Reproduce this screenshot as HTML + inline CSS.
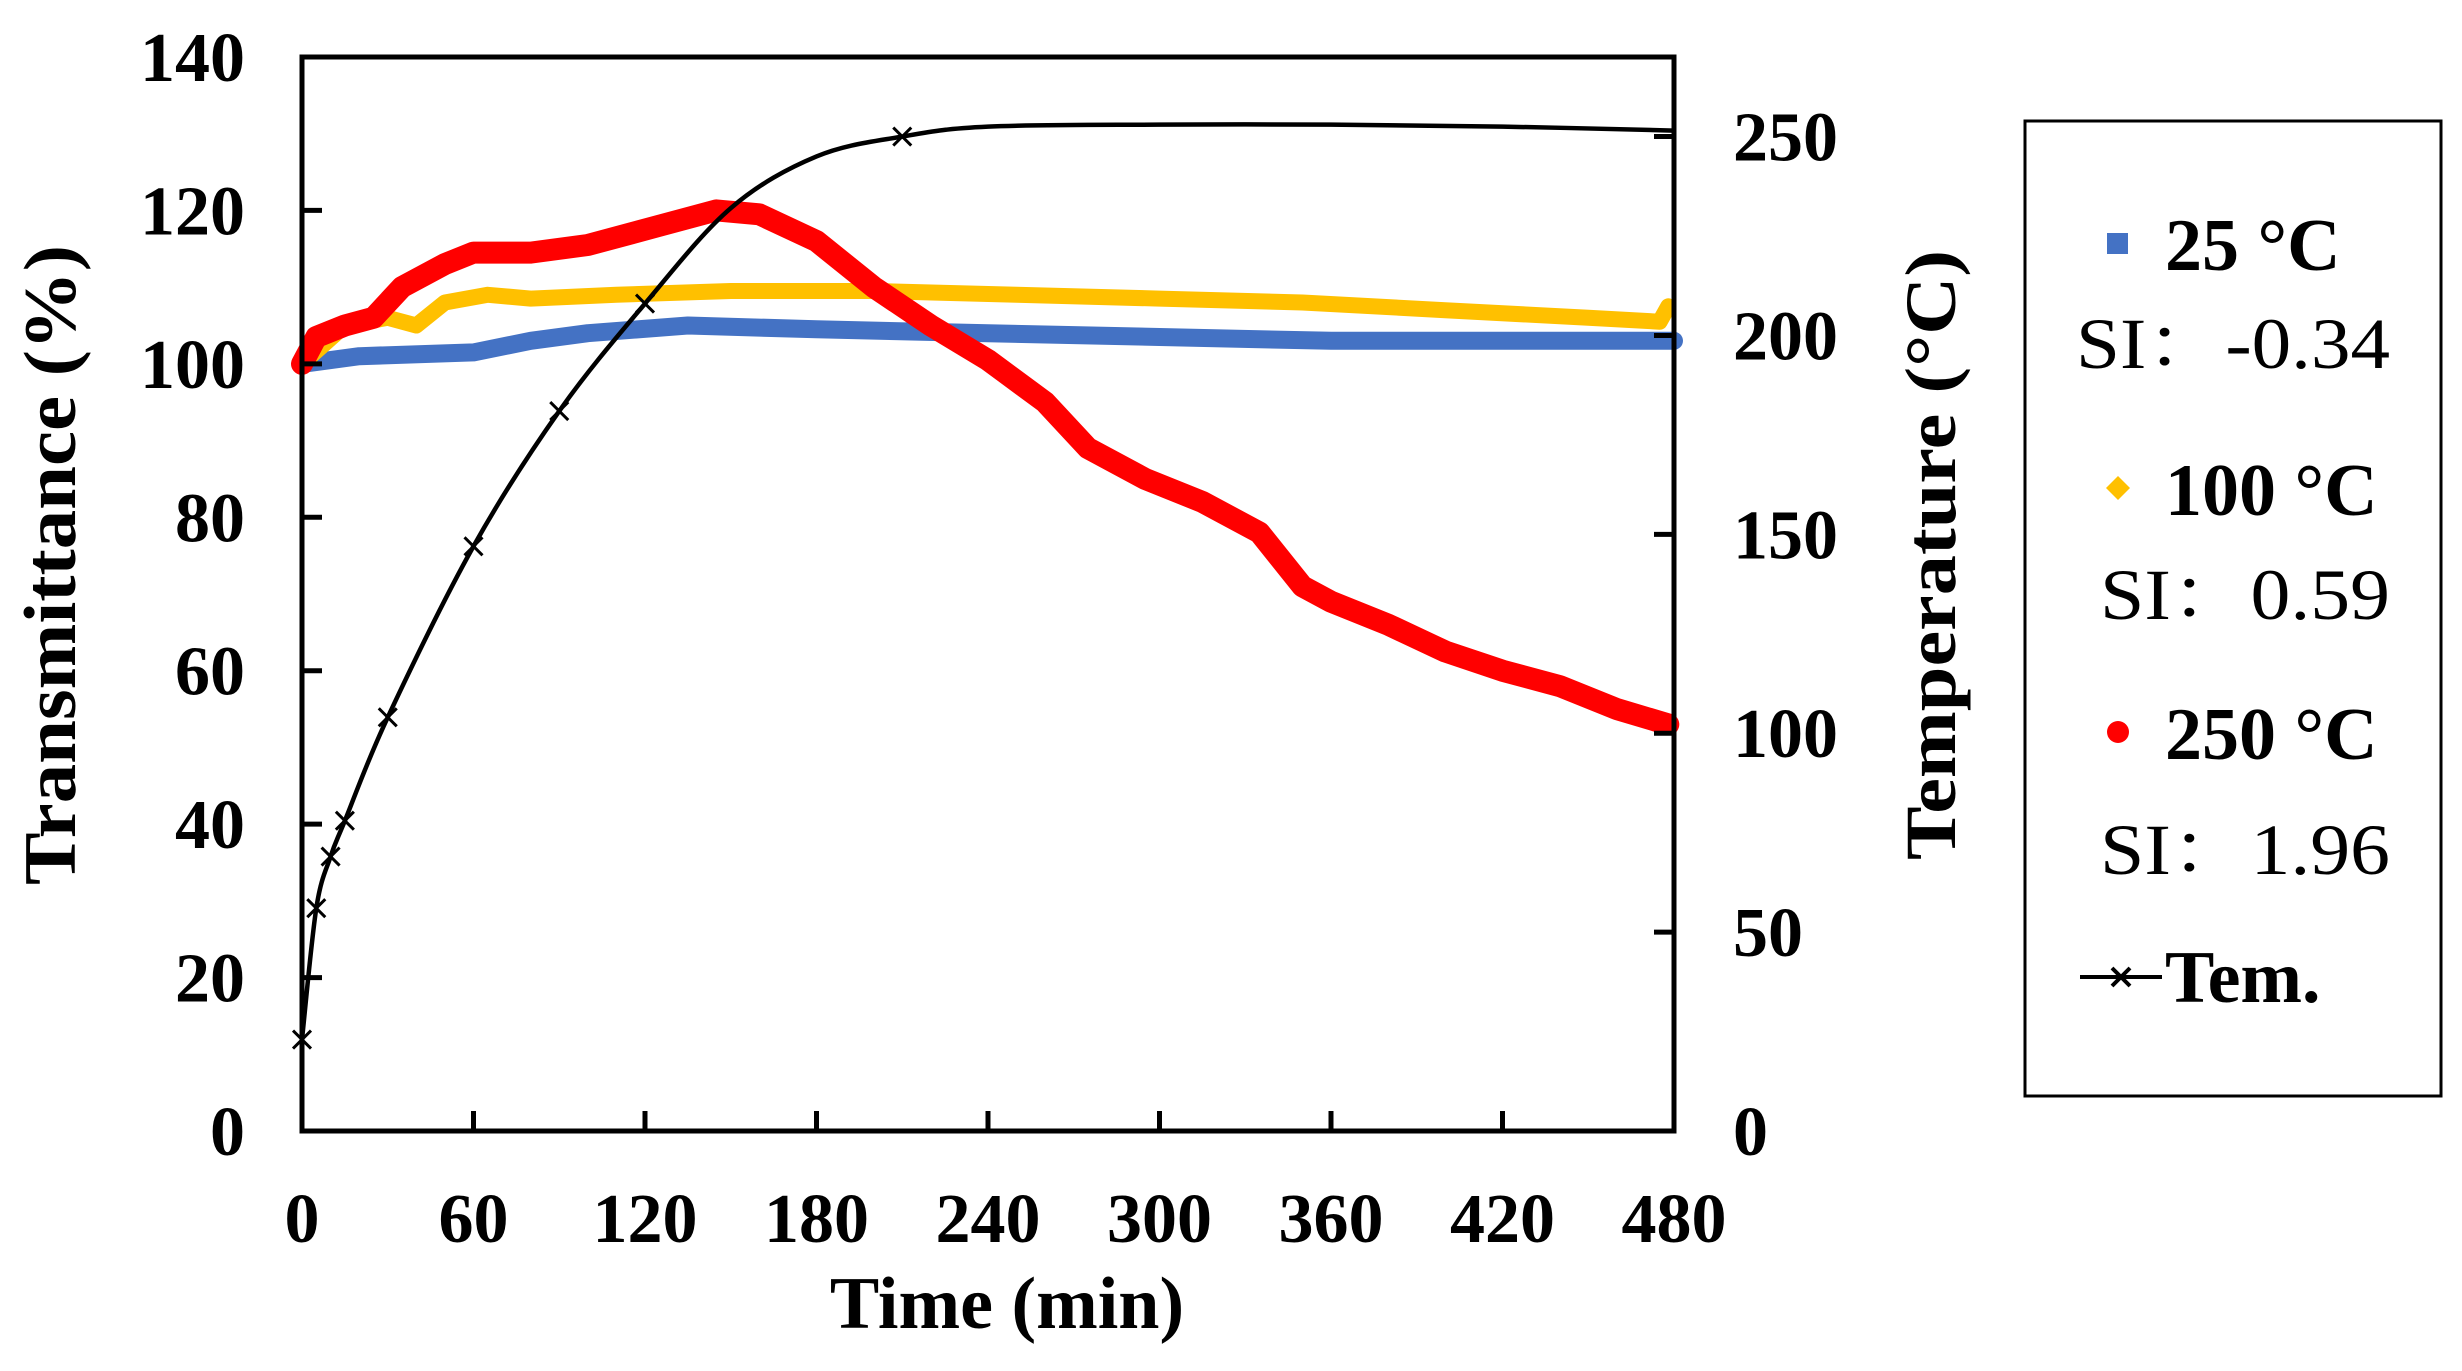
<!DOCTYPE html>
<html><head><meta charset="utf-8"><style>
body{margin:0;background:#fff;}
svg{display:block;}
text{font-family:"Liberation Serif","Noto Serif CJK SC",serif;fill:#000;}
</style></head><body>
<svg id="chart" width="2462" height="1371" viewBox="0 0 2462 1371">
<g id="marks"></g>
<g id="axes"></g>
</svg>
<script>
const xTicks=[0,60,120,180,240,300,360,420,480];
const yLeftTicks=[0,20,40,60,80,100,120,140];
const yRightTicks=[0,50,100,150,200,250];
const t25=[0,20,60,80,100,135,180,240,300,360,420,480];
const v25=[100,101,101.5,103,104,105,104.5,104,103.5,103,103,103];
const t100=[0,15,30,40,50,65,80,110,150,200,250,300,350,400,450,475,478];
const v100=[100,105,106,105,108,109,108.5,109,109.5,109.5,109,108.5,108,107,106,105.5,107.5];
const t250=[0,5,15,25,35,50,60,80,100,125,145,160,180,200,220,240,260,275,295,315,335,350,360,380,400,420,440,460,478];
const v250=[100,103.5,105,106,110,113,114.5,114.5,115.5,118,120,119.5,116,110,105,100.5,95,89,85,82,78,71,69,66,62.5,60,58,55,53];
const tTem=[0,5,10,15,30,60,90,120,150,180,210,240,300,360,420,480];
const vTem=[23,56,69,78,104,147,181,208,232,245,250,252.5,253,253,252.5,251.5];
const temMarked=[0,5,10,15,30,60,90,120,210];

const L=302,R=1674,T=57,B=1131;
const X=t=>L+(R-L)*t/480;
const YL=v=>B-(B-T)*v/140;
const YR=v=>B-(B-T)*v/270;
const NS="http://www.w3.org/2000/svg";
const svg=document.getElementById('chart');
const marks=document.getElementById('marks');
const axes=document.getElementById('axes');
function mk(tag,attrs,parent){const e=document.createElementNS(NS,tag);for(const k in attrs)e.setAttribute(k,attrs[k]);(parent||svg).appendChild(e);return e;}

function series(ts,vs,yf,color,w,name){
  const d=ts.map((t,i)=>(i?'L':'M')+X(t).toFixed(1)+','+yf(vs[i]).toFixed(1)).join('');
  const p=mk('path',{d:d,fill:'none',stroke:color,'stroke-width':w,'stroke-linejoin':'round','stroke-linecap':'round'},marks);
  
  
}
series(t25,v25,YL,'#4472C4',18,'series-25c');
series(t100,v100,YL,'#FFC000',16,'series-100c');
series(t250,v250,YL,'#FF0000',22,'series-250c');

(function(){
  const pts=tTem.map((t,i)=>[X(t),YR(vTem[i])]);
  let d='M'+pts[0][0]+','+pts[0][1];
  for(let i=0;i<pts.length-1;i++){
    const p0=pts[Math.max(0,i-1)],p1=pts[i],p2=pts[i+1],p3=pts[Math.min(pts.length-1,i+2)];
    const c1=[p1[0]+(p2[0]-p0[0])/6,p1[1]+(p2[1]-p0[1])/6];
    const c2=[p2[0]-(p3[0]-p1[0])/6,p2[1]-(p3[1]-p1[1])/6];
    d+='C'+c1.join(',')+' '+c2.join(',')+' '+p2.join(',');
  }
  const p=mk('path',{d:d,fill:'none',stroke:'#000','stroke-width':4.5},marks);
  
  
  temMarked.forEach(t=>{
    const i=tTem.indexOf(t);const x=X(t),y=YR(vTem[i]);
    const m=mk('path',{d:`M${x-9},${y-9}L${x+9},${y+9}M${x-9},${y+9}L${x+9},${y-9}`,stroke:'#000','stroke-width':3},marks);
    
    
  });
})();

const fr=mk('rect',{x:L,y:T,width:R-L,height:B-T,fill:'none',stroke:'#000','stroke-width':5},axes);



xTicks.forEach(t=>{
  const ln=mk('line',{x1:X(t),x2:X(t),y1:B,y2:B-20,stroke:'#000','stroke-width':5},axes);
  
  
  const tx=mk('text',{x:X(t),y:1242,'text-anchor':'middle','font-size':70,'font-weight':'bold'},axes);
  tx.textContent=t;
  
  
});
yLeftTicks.forEach(v=>{
  const ln=mk('line',{x1:L,x2:L+20,y1:YL(v),y2:YL(v),stroke:'#000','stroke-width':5},axes);
  
  
  const tx=mk('text',{x:245,y:YL(v)+24,'text-anchor':'end','font-size':70,'font-weight':'bold'},axes);
  tx.textContent=v;
  
  
});
yRightTicks.forEach(v=>{
  const ln=mk('line',{x1:R,x2:R-20,y1:YR(v),y2:YR(v),stroke:'#000','stroke-width':5},axes);
  
  
  const tx=mk('text',{x:1733,y:YR(v)+24,'text-anchor':'start','font-size':70,'font-weight':'bold'},axes);
  tx.textContent=v;
  
  
});
</script>
<svg style="position:absolute;left:0;top:0" width="2462" height="1371">
<text x="1007" y="1328" text-anchor="middle" font-size="74" font-weight="bold">Time (min)</text>
<text transform="translate(75,565) rotate(-90)" text-anchor="middle" font-size="74" font-weight="bold" textLength="640" lengthAdjust="spacingAndGlyphs">Transmittance (%)</text>
<text transform="translate(1955,555) rotate(-90)" text-anchor="middle" font-size="72" font-weight="bold" textLength="610" lengthAdjust="spacingAndGlyphs">Temperature (°C)</text>
<g>
<rect x="2025" y="121" width="416" height="975" fill="none" stroke="#000" stroke-width="3"/>
<rect x="2107" y="233" width="21" height="21" fill="#4472C4"/>
<text x="2165" y="270" font-size="74" font-weight="bold">25 °C</text>
<text x="2390" y="368" text-anchor="end" font-size="72" textLength="314" lengthAdjust="spacingAndGlyphs">SI：-0.34</text>
<path d="M2118,476 L2130,488 L2118,500 L2106,488Z" fill="#FFC000"/>
<text x="2165" y="515" font-size="74" font-weight="bold">100 °C</text>
<text x="2390" y="619" text-anchor="end" font-size="72" textLength="290" lengthAdjust="spacingAndGlyphs">SI：0.59</text>
<circle cx="2118" cy="732" r="11" fill="#FF0000"/>
<text x="2165" y="759" font-size="74" font-weight="bold">250 °C</text>
<text x="2390" y="874" text-anchor="end" font-size="72" textLength="290" lengthAdjust="spacingAndGlyphs">SI：1.96</text>
<path d="M2080,977 L2162,977 M2112,968 L2130,986 M2112,986 L2130,968" stroke="#000" stroke-width="4"/>
<text x="2165" y="1002" font-size="74" font-weight="bold">Tem.</text>
</g>
</svg>
</body></html>
